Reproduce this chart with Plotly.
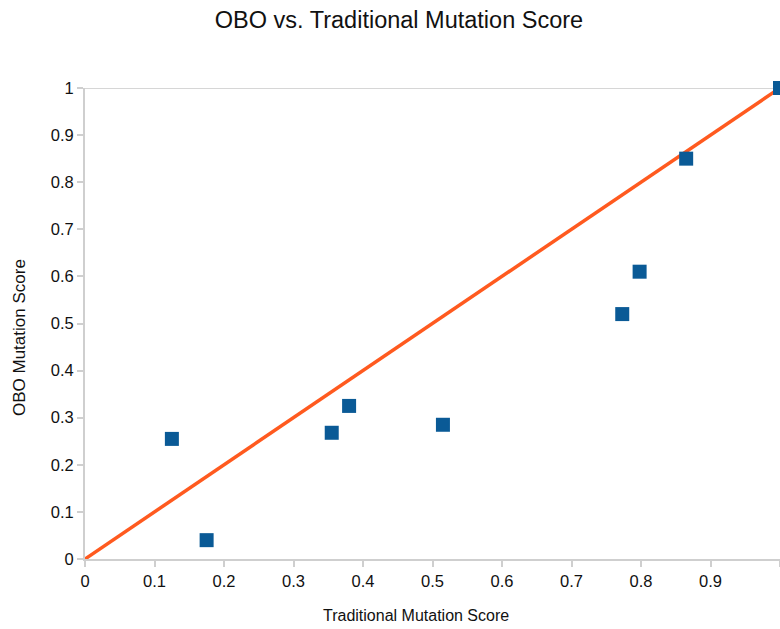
import plotly.graph_objects as go

trad_scores = [0.125, 0.175, 0.355, 0.38, 0.515, 0.773, 0.798, 0.865, 1.0]
obo_scores = [0.255, 0.04, 0.268, 0.325, 0.285, 0.52, 0.61, 0.85, 1.0]
ref_x = [0, 1]
ref_y = [0, 1]
tick_vals = [0, 0.1, 0.2, 0.3, 0.4, 0.5, 0.6, 0.7, 0.8, 0.9, 1]
tick_text = ["0", "0.1", "0.2", "0.3", "0.4", "0.5", "0.6", "0.7", "0.8", "0.9", "1"]

fig = go.Figure()
fig.add_trace(go.Scatter(x=ref_x, y=ref_y, mode="lines",
                         line=dict(color="#ff5a1f", width=3.5), showlegend=False))
fig.add_trace(go.Scatter(x=trad_scores, y=obo_scores, mode="markers",
                         marker=dict(symbol="square", size=14, color="#0a5a96",
                                     line=dict(width=0)),
                         showlegend=False, cliponaxis=False))

axis_common = dict(showgrid=False, zeroline=False, showline=True, linecolor="#cfcfcf",
                   linewidth=2, ticks="outside", ticklen=6, tickcolor="#cfcfcf",
                   tickwidth=2, tickfont=dict(family="Liberation Sans, Arial", size=16.5, color="#111"),
                   tickvals=tick_vals, ticktext=tick_text)

W, H = 780, 629
PW, PH = 695, 471  # plot area size in px
fig.update_layout(
    width=W, height=H,
    margin=dict(l=85, r=0, t=88, b=70),
    paper_bgcolor="white", plot_bgcolor="white",
    font=dict(family="Liberation Sans, Arial", color="#111"),
    title=dict(text="OBO vs. Traditional Mutation Score", x=399 / W, xanchor="center",
               y=1 - 20 / H, yanchor="middle", font=dict(size=23.5, color="#111")),
    xaxis=dict(range=[0, 1.0], **axis_common),
    yaxis=dict(range=[0, 1.0], **axis_common),
    shapes=[dict(type="line", xref="paper", yref="y", x0=0, x1=1, y0=1, y1=1,
                 line=dict(color="#d6d6d6", width=2), layer="below")],
    annotations=[
        dict(text="Traditional Mutation Score", xref="paper", yref="paper",
             x=(416 - 85) / PW, y=-(615 - 559) / PH, xanchor="center", yanchor="middle",
             showarrow=False, font=dict(size=16, color="#111")),
        dict(text="OBO Mutation Score", xref="paper", yref="paper", textangle=-90,
             x=-(85 - 19) / PW, y=(559 - 338) / PH, xanchor="center", yanchor="middle",
             showarrow=False, font=dict(size=17, color="#111")),
    ],
)

fig.write_html("out.html", config={"displayModeBar": False},
               post_script="document.body.style.margin='0';document.body.style.overflow='hidden';")
